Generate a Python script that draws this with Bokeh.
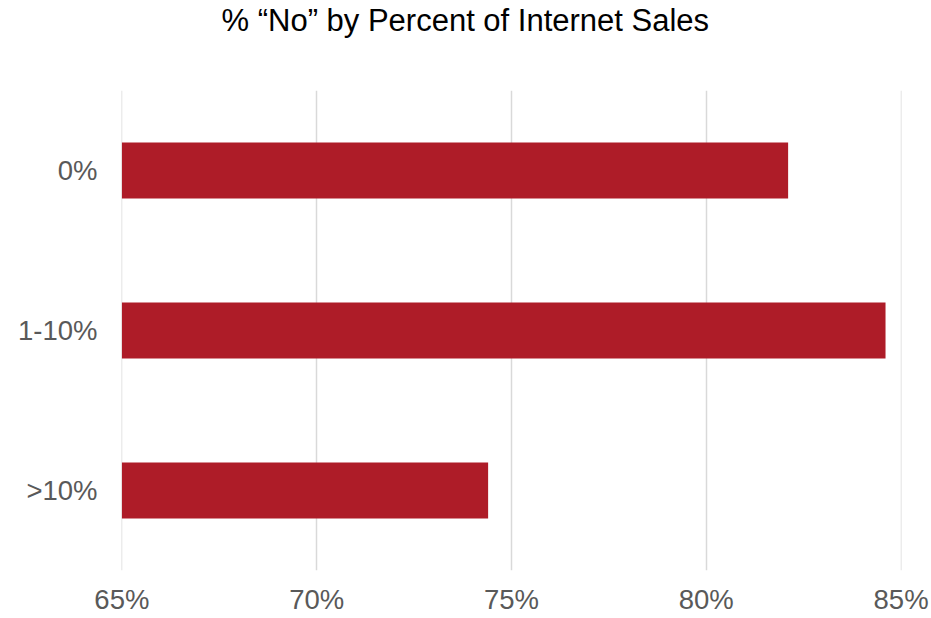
from bokeh.plotting import figure
from bokeh.models import FactorRange, Range1d, FixedTicker, Title
from bokeh.embed import file_html
from bokeh.resources import INLINE

categories = ["0%", "1-10%", ">10%"]
values = [82.1, 84.6, 74.4]
tick_values = [65, 70, 75, 80, 85]
tick_labels = ["65%", "70%", "75%", "80%", "85%"]
title_text = "% \u201cNo\u201d by Percent of Internet Sales"

FONT = "Liberation Sans"

p = figure(
    width=931, height=618,
    y_range=FactorRange(factors=list(reversed(categories)), range_padding=0),
    x_range=Range1d(64.99, 85.01),
    output_backend="svg", toolbar_location=None,
    min_border_left=121, min_border_right=30, min_border_top=90, min_border_bottom=48,
)

p.hbar(y=categories, left=65, right=values, height=0.35, color="#ae1c28", line_color=None)

# blank spacer panel between the plot area and the title
p.add_layout(Title(text=" ", standoff=46, text_font_size="2px", text_color="white"), "above")

p.title = Title(
    text=title_text, align="left", offset=222 - 121 - 1,
    vertical_align="top", standoff=2,
    text_font=FONT, text_font_size="31px", text_font_style="normal",
    text_color="#000000",
)

p.outline_line_color = None
p.background_fill_color = "white"
p.border_fill_color = "white"

p.ygrid.grid_line_color = None
p.xgrid.grid_line_color = "#d9d9d9"
p.xgrid.grid_line_width = 1.5

p.xaxis.ticker = FixedTicker(ticks=tick_values)
p.xaxis.major_label_overrides = {v: l for v, l in zip(tick_values, tick_labels)}

for ax in (p.xaxis[0], p.yaxis[0]):
    ax.axis_line_color = None
    ax.major_tick_line_color = None
    ax.minor_tick_line_color = None
    ax.major_label_text_font = FONT
    ax.major_label_text_font_size = "27.5px"
    ax.major_label_text_color = "#595959"

p.xaxis.major_label_standoff = 7
p.yaxis.major_label_standoff = 18

open("out.html", "w").write(file_html(p, INLINE))
